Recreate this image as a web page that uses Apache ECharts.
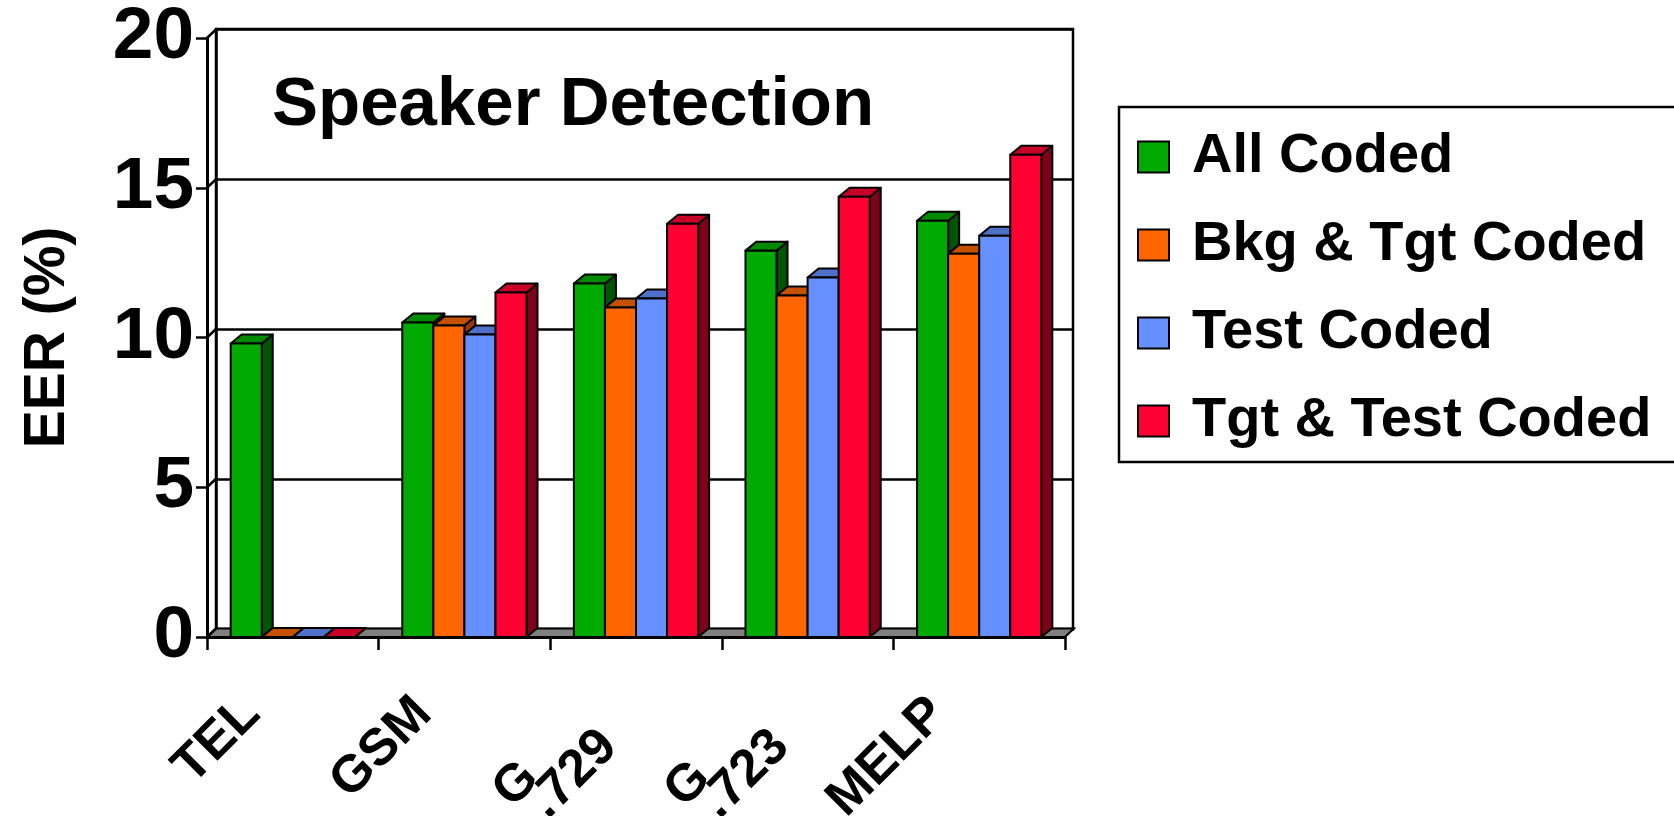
<!DOCTYPE html>
<html>
<head>
<meta charset="utf-8">
<script src="https://cdn.jsdelivr.net/npm/echarts@6/dist/echarts.min.js"></script>
<style>
html,body{margin:0;padding:0;background:#fff;}
#chart{width:1674px;height:816px;}
</style>
</head>
<body>
<div id="chart"></div>
<script>
// ---- data ----
const categories = ['TEL', 'GSM', 'G.729', 'G.723', 'MELP'];
const seriesNames = ['All Coded', 'Bkg & Tgt Coded', 'Test Coded', 'Tgt & Test Coded'];
const allCoded = [9.8, 10.5, 11.8, 12.9, 13.9];
const bkgTgtCoded = [0, 10.4, 11.0, 11.4, 12.8];
const testCoded = [0, 10.1, 11.3, 12.0, 13.4];
const tgtTestCoded = [0, 11.5, 13.8, 14.7, 16.1];
const yTicks = [0, 5, 10, 15, 20];

// ---- styles ----
const FONT = "'Liberation Sans', Arial, sans-serif";
const palette = [
  { front: '#00AA00', top: '#008A00', side: '#005500' },
  { front: '#FF6600', top: '#C45000', side: '#9A3A00' },
  { front: '#6690FF', top: '#4F70C8', side: '#3A55A0' },
  { front: '#FF0033', top: '#C80028', side: '#7F0019' }
];
const BAR_FRAC = 0.181;
const BDX = 11, BDY = -9;   // bar depth
const WDX = 9, WDY = -8.5;  // wall depth

function barRender(sIdx) {
  const c = palette[sIdx];
  return function (params, api) {
    const ci = api.value(0), v = api.value(1);
    const b = api.coord([ci, 0]);
    const t = api.coord([ci, v]);
    const cw = api.size([1, 0])[0];
    const bw = cw * BAR_FRAC;
    const x0 = b[0] + (sIdx - 2) * bw;
    const x1 = x0 + bw;
    const yt = t[1], yb = b[1];
    const st = { stroke: '#000', lineWidth: 2, lineJoin: 'round' };
    return {
      type: 'group',
      children: [
        { type: 'polygon', shape: { points: [[x1, yt], [x1 + BDX, yt + BDY], [x1 + BDX, yb + BDY], [x1, yb]] },
          style: Object.assign({ fill: c.side }, st) },
        { type: 'polygon', shape: { points: [[x0, yt], [x1, yt], [x1 + BDX, yt + BDY], [x0 + BDX, yt + BDY]] },
          style: Object.assign({ fill: c.top }, st) },
        { type: 'rect', shape: { x: x0, y: yt, width: bw, height: yb - yt },
          style: Object.assign({ fill: c.front }, st) }
      ]
    };
  };
}

const valueLists = [allCoded, bkgTgtCoded, testCoded, tgtTestCoded];
const barSeries = valueLists.map((vals, s) => ({
  name: seriesNames[s],
  type: 'custom',
  xAxisIndex: 0, yAxisIndex: 0,
  z: 5,
  itemStyle: { color: palette[s].front },
  encode: { x: 0, y: 1 },
  renderItem: barRender(s),
  data: vals.map((v, i) => [i, v])
}));

const floorSeries = {
  name: 'floor', type: 'custom', xAxisIndex: 0, yAxisIndex: 0, z: 3, silent: true,
  encode: { x: 0, y: 1 },
  data: [[0, 0]],
  renderItem: function (params, api) {
    const cw = api.size([1, 0])[0];
    const l = api.coord([0, 0]); const r = api.coord([categories.length - 1, 0]);
    const xl = l[0] - cw / 2, xr = r[0] + cw / 2, y = l[1];
    return { type: 'polygon', shape: { points: [[xl, y], [xr, y], [xr + WDX, y + WDY], [xl + WDX, y + WDY]] },
      style: { fill: '#808080', stroke: '#000', lineWidth: 2 } };
  }
};
const wallSeries = {
  name: 'wall', type: 'custom', xAxisIndex: 0, yAxisIndex: 0, z: 3, silent: true,
  encode: { x: 0, y: 1 },
  data: yTicks.map(v => [0, v]),
  renderItem: function (params, api) {
    const cw = api.size([1, 0])[0];
    const p = api.coord([0, api.value(1)]);
    const xl = p[0] - cw / 2;
    return { type: 'line', shape: { x1: xl, y1: p[1], x2: xl + WDX, y2: p[1] + WDY },
      style: { stroke: '#000', lineWidth: 2.5 } };
  }
};

// labels with a dot are set on two lines ("G" / ".729"), as in the original
function splitLabel(v) {
  const k = v.indexOf('.');
  return k > 0 ? '{c| }\n{a|' + v.slice(0, k) + '}\n{b|' + v.slice(k) + '}' : v;
}

const labelRich = {
  a: { align: 'left', fontSize: 52, fontWeight: 'bold', fontFamily: FONT, color: '#000', lineHeight: 33 },
  b: { align: 'right', fontSize: 52, fontWeight: 'bold', fontFamily: FONT, color: '#000', lineHeight: 33, padding: [0, 13, 0, 17] },
  c: { align: 'left', fontSize: 52, fontFamily: FONT, color: '#000', lineHeight: 33 }
};

const chart = echarts.init(document.getElementById('chart'), null, { renderer: 'canvas' });
chart.setOption({
  backgroundColor: '#fff',
  animation: false,
  textStyle: { fontFamily: FONT },
  grid: [
    { left: 207, right: 609, top: 38, bottom: 179, show: false, outerBoundsMode: 'none', containLabel: false },
    { left: 216, right: 601, top: 29, bottom: 187, show: true, borderColor: '#000', borderWidth: 2.5, backgroundColor: '#fff', z: 0, outerBoundsMode: 'none', containLabel: false }
  ],
  xAxis: [
    {
      type: 'category', gridIndex: 0, data: categories, z: 6,
      axisLine: { show: true, lineStyle: { color: '#000', width: 3 } },
      axisTick: { show: true, length: 13, lineStyle: { color: '#000', width: 2.5 } },
      axisLabel: {
        interval: 0, rotate: 45, margin: 28, color: '#000', fontSize: 52, fontWeight: 'bold', fontFamily: FONT,
        padding: [0, 58, 0, 0],
        formatter: splitLabel,
        rich: labelRich
      }
    },
    {
      type: 'category', gridIndex: 1, data: categories,
      axisLine: { show: true, lineStyle: { color: '#000', width: 2.5 } },
      axisTick: { show: false }, axisLabel: { show: false }
    }
  ],
  yAxis: [
    {
      type: 'value', gridIndex: 0, min: 0, max: 20, interval: 5, z: 6,
      axisLine: { show: true, lineStyle: { color: '#000', width: 3 } },
      axisTick: { show: true, length: 11, lineStyle: { color: '#000', width: 2.5 } },
      splitLine: { show: false },
      axisLabel: { margin: 13, color: '#000', fontSize: 73, fontWeight: 'bold', fontFamily: FONT },
      name: 'EER (%)', nameLocation: 'middle', nameGap: 130,
      nameTextStyle: { color: '#000', fontSize: 57, fontWeight: 'bold', fontFamily: FONT }
    },
    {
      type: 'value', gridIndex: 1, min: 0, max: 20, interval: 5,
      axisLine: { show: true, lineStyle: { color: '#000', width: 2.5 } },
      axisTick: { show: false }, axisLabel: { show: false },
      splitLine: { show: true, lineStyle: { color: '#000', width: 2.5 } }
    }
  ],
  legend: {
    data: seriesNames, orient: 'vertical', left: 1132, top: 124,
    itemWidth: 31, itemHeight: 31, itemGap: 32, icon: 'rect', selectedMode: false,
    itemStyle: { borderColor: '#000', borderWidth: 2 },
    textStyle: { color: '#000', fontSize: 56, fontWeight: 'bold', fontFamily: FONT, lineHeight: 56, padding: [0, 0, 0, 18] }
  },
  graphic: [
    { type: 'rect', z: 0, shape: { x: 1119, y: 107, width: 700, height: 355 },
      style: { fill: 'transparent', stroke: '#000', lineWidth: 2.5 } },
    { type: 'text', z: 10, x: 272, y: 106,
      style: { text: 'Speaker Detection', fill: '#000', font: 'bold 69px ' + FONT, verticalAlign: 'middle', align: 'left' } }
  ],
  series: [floorSeries, wallSeries].concat(barSeries)
});
</script>
</body>
</html>
